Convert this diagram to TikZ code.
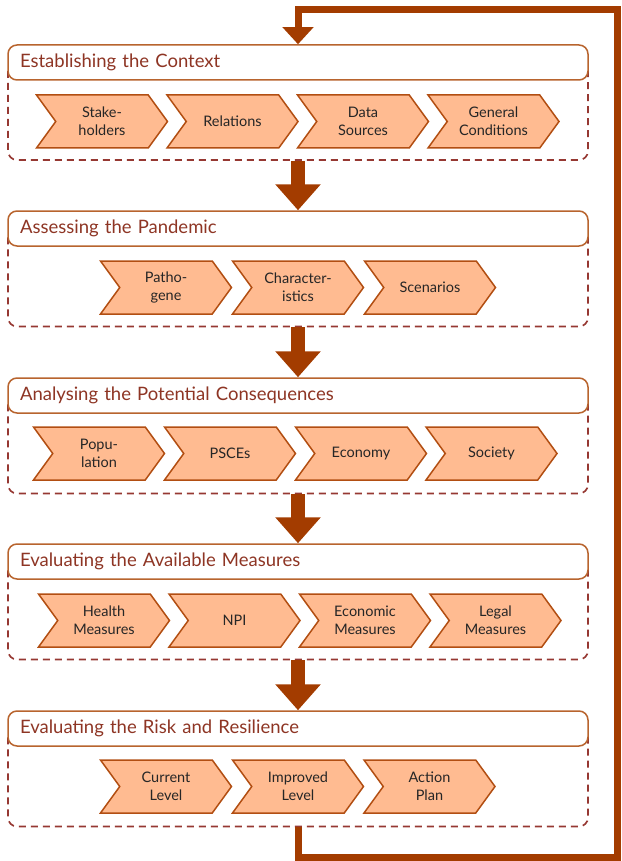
\documentclass[tikz,border=0pt]{standalone}
\usepackage{fontspec}
\setmainfont{Lato}
\usetikzlibrary{arrows.meta,shapes.symbols,positioning}
\definecolor{arrowbrown}{HTML}{A33C00}
\definecolor{chevfill}{HTML}{FFBB91}
\definecolor{chevdraw}{HTML}{B24E12}
\definecolor{titledraw}{HTML}{B8642E}
\definecolor{titletext}{HTML}{8E3524}
\definecolor{dashdraw}{HTML}{963832}

\begin{document}
\begin{tikzpicture}[x=1pt, y=-1pt,
    title/.style={rectangle, rounded corners=9pt, draw=titledraw, line width=1.5pt, fill=white,
      text width=556pt, align=left, minimum height=35pt, inner xsep=12pt,
      font=\fontsize{18.5}{22}\selectfont, text=titletext},
    group/.style={rectangle, rounded corners=9pt, draw=dashdraw, dash pattern=on 7pt off 5pt,
      line width=1.7pt, minimum width=580pt},
    chev/.style={signal, signal from=west, signal to=east, signal pointer angle=108,
      draw=chevdraw, line width=1.5pt, fill=chevfill, minimum width=131pt, minimum height=53pt,
      inner sep=0pt, align=center, font=\fontsize{14.5}{18}\selectfont, text=black!85},
    flow/.style={arrowbrown, line width=14pt, -{Triangle[width=44pt,length=26pt]}},
    back/.style={arrowbrown, line width=7pt, -{Triangle[width=30pt,length=17pt]}}]
  \useasboundingbox (0,0) rectangle (621,861);

  % STAGE 1
  \node[group, minimum height=98pt] (g1) at (298,111) {};
  \node[title] (t1) at (298,62.5) {Establishing the Context};
  \node[chev] (c11) at (102,121.5) {Stake-\\holders};
  \node[chev] (c12) at (232.5,121.5) {Relations};
  \node[chev] (c13) at (363,121.5) {Data\\Sources};
  \node[chev] (c14) at (493.5,121.5) {General\\Conditions};

  % STAGE 2
  \node[group, minimum height=98pt] (g2) at (298,277.5) {};
  \node[title] (t2) at (298,228.5) {Assessing the Pandemic};
  \node[chev] (c21) at (166,287.5) {Patho-\\gene};
  \node[chev] (c22) at (298,287.5) {Character-\\istics};
  \node[chev] (c23) at (430,287.5) {Scenarios};

  % STAGE 3
  \node[group, minimum height=98pt] (g3) at (298,444.5) {};
  \node[title] (t3) at (298,395.5) {Analysing the Potential Consequences};
  \node[chev] (c31) at (99,453.5) {Popu-\\lation};
  \node[chev] (c32) at (230,453.5) {PSCEs};
  \node[chev] (c33) at (361,453.5) {Economy};
  \node[chev] (c34) at (491.5,453.5) {Society};

  % STAGE 4
  \node[group, minimum height=98pt] (g4) at (298,610.5) {};
  \node[title] (t4) at (298,561.5) {Evaluating the Available Measures};
  \node[chev] (c41) at (104,620.5) {Health\\Measures};
  \node[chev] (c42) at (234.5,620.5) {NPI};
  \node[chev] (c43) at (365,620.5) {Economic\\Measures};
  \node[chev] (c44) at (495.5,620.5) {Legal\\Measures};

  % STAGE 5
  \node[group, minimum height=98pt] (g5) at (298,777.5) {};
  \node[title] (t5) at (298,728.5) {Evaluating the Risk and Resilience};
  \node[chev] (c51) at (166,786.5) {Current\\Level};
  \node[chev] (c52) at (298,786.5) {Improved\\Level};
  \node[chev] (c53) at (429.5,786.5) {Action\\Plan};

  % arrows between stages
  \foreach \a/\b in {g1/t2, g2/t3, g3/t4, g4/t5} {
    \draw[flow] (\a.south) -- (\b.north);
  }

  % feedback loop
  \coordinate (loopbr) at (617,857);
  \coordinate (looptr) at (617,10);
  \draw[back] (g5.south) |- (loopbr) -- (looptr) -| (t1.north);
\end{tikzpicture}
\end{document}
